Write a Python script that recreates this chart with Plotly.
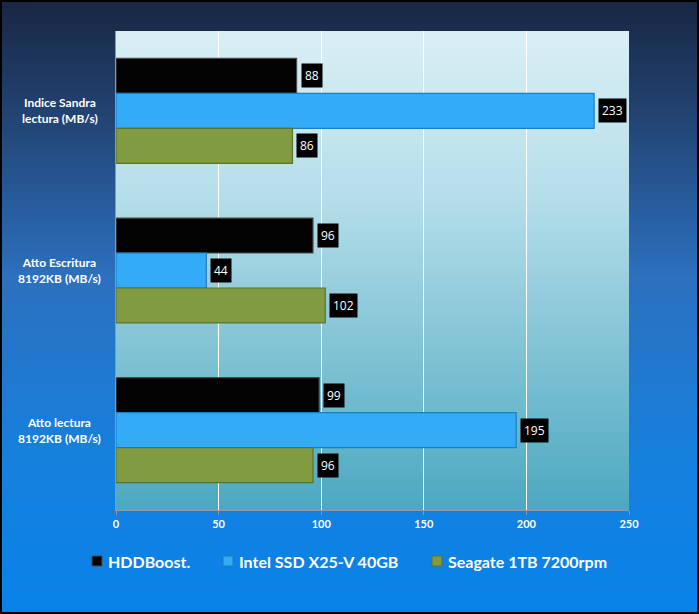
import plotly.graph_objects as go

categories = ["Indice Sandra<br>lectura (MB/s)", "Atto Escritura<br>8192KB (MB/s)", "Atto lectura<br>8192KB (MB/s)"]
series_names = ["HDDBoost.", "Intel SSD X25-V 40GB", "Seagate 1TB 7200rpm"]
hddboost = [88, 96, 99]
intel_ssd = [233, 44, 195]
seagate = [86, 102, 96]
tick_vals = [0, 50, 100, 150, 200, 250]

series_values = [hddboost, intel_ssd, seagate]
colors = ["#030303", "#33abf6", "#809b41"]
line_colors = ["#4a4a4a", "#1a7fc0", "#5c7228"]

W, H = 699, 614
ML, MR, MT, MB = 116, 70, 31, 104
BARGAP = 0.343

fig = go.Figure()
for name, vals, c, lc in zip(series_names, series_values, colors, line_colors):
    fig.add_trace(go.Bar(
        y=categories, x=vals, name=name, orientation="h",
        marker=dict(color=c, line=dict(color=lc, width=1.2)),
        hoverinfo="x+name", showlegend=False,
    ))

shapes = []
pw = W - ML - MR
ph = H - MT - MB
def px2paper_x(px):
    return (px - ML) / pw
def py2paper_y(py):
    return (H - MB - py) / ph

def lerp(c1, c2, t):
    return tuple(int(round(a + (b - a) * t)) for a, b in zip(c1, c2))

outer_stops = [(0, (24, 38, 66)), (0.18, (34, 66, 112)), (0.45, (44, 112, 190)), (0.75, (22, 128, 222)), (1.0, (8, 130, 232))]
def grad(stops, t):
    for (t0, c0), (t1, c1) in zip(stops[:-1], stops[1:]):
        if t0 <= t <= t1:
            return lerp(c0, c1, (t - t0) / (t1 - t0) if t1 > t0 else 0)
    return stops[-1][1]

N = 80
for i in range(N):
    y0 = H * i / N
    y1 = H * (i + 1) / N + 1
    c = grad(outer_stops, (i + 0.5) / N)
    shapes.append(dict(type="rect", xref="paper", yref="paper", layer="below",
                       x0=px2paper_x(0), x1=px2paper_x(W), y0=py2paper_y(y1), y1=py2paper_y(y0),
                       fillcolor="rgb(%d,%d,%d)" % c, line=dict(width=0)))

plot_stops = [(0, (218, 239, 245)), (0.35, (180, 222, 233)), (0.65, (132, 196, 214)), (1.0, (76, 169, 192))]
for i in range(N):
    y0 = i / N
    y1 = (i + 1) / N
    c = grad(plot_stops, (i + 0.5) / N)
    shapes.append(dict(type="rect", xref="paper", yref="paper", layer="below",
                       x0=0, x1=1, y0=1 - y1 - 0.002, y1=1 - y0,
                       fillcolor="rgb(%d,%d,%d)" % c, line=dict(width=0)))

shapes.append(dict(type="rect", xref="paper", yref="paper", layer="above",
                   x0=px2paper_x(1), x1=px2paper_x(W - 1), y0=py2paper_y(H - 1), y1=py2paper_y(1),
                   line=dict(color="black", width=2), fillcolor="rgba(0,0,0,0)"))

annotations = []
cat_px = ph / len(categories)
bar_px = cat_px * (1 - BARGAP) / len(series_names)
for si, vals in enumerate(series_values):
    shift = (1 - si) * bar_px
    for cat, v in zip(categories, vals):
        annotations.append(dict(x=v, y=cat, xref="x", yref="y", text=str(v), showarrow=False,
                                xanchor="left", yanchor="middle", xshift=4, yshift=shift,
                                bgcolor="black", borderpad=3,
                                font=dict(color="white", size=12, family="Open Sans")))

for cat in categories:
    annotations.append(dict(x=-0.11, y=cat, xref="paper", yref="y", text="<b>%s</b>" % cat,
                            showarrow=False, xanchor="center", yanchor="middle", align="center",
                            font=dict(color="white", size=12, family="Lato")))

# legend (drawn manually so it stays on one row)
legend_sq_x = [92, 223, 432]
legend_y = 561
for name, c, lc, sx in zip(series_names, colors, line_colors, legend_sq_x):
    shapes.append(dict(type="rect", xref="paper", yref="paper", layer="above",
                       x0=px2paper_x(sx), x1=px2paper_x(sx + 10),
                       y0=py2paper_y(legend_y + 5), y1=py2paper_y(legend_y - 5),
                       fillcolor=c, line=dict(color=lc, width=1)))
    annotations.append(dict(x=px2paper_x(sx + 14), y=py2paper_y(legend_y), xref="paper", yref="paper",
                            text="<b>%s</b>" % name, showarrow=False, xanchor="left", yanchor="middle",
                            font=dict(color="white", size=16, family="Lato")))

fig.update_layout(
    width=W, height=H,
    margin=dict(l=ML, r=MR, t=MT, b=MB, autoexpand=False),
    paper_bgcolor="#1262b0",
    plot_bgcolor="rgba(0,0,0,0)",
    barmode="group", bargap=BARGAP, bargroupgap=0,
    shapes=shapes, annotations=annotations,
    showlegend=False,
    font=dict(family="Lato", color="white"),
)
fig.update_xaxes(range=[0, 250], tickvals=tick_vals, ticktext=["<b>%d</b>" % t for t in tick_vals],
                 showgrid=True, gridcolor="white", gridwidth=1,
                 showline=True, linecolor="#8a9aa8", linewidth=1, ticks="outside", ticklen=4,
                 tickcolor="#8a9aa8", tickfont=dict(color="white", size=11, family="Lato"),
                 zeroline=False, fixedrange=True)
fig.update_yaxes(autorange="reversed", showticklabels=False, showline=True, linecolor="#8a9aa8",
                 linewidth=1, showgrid=False, fixedrange=True)

fig.write_html("out.html", config={"displayModeBar": False},
               post_script="document.body.style.margin='0';document.body.style.overflow='hidden';")
